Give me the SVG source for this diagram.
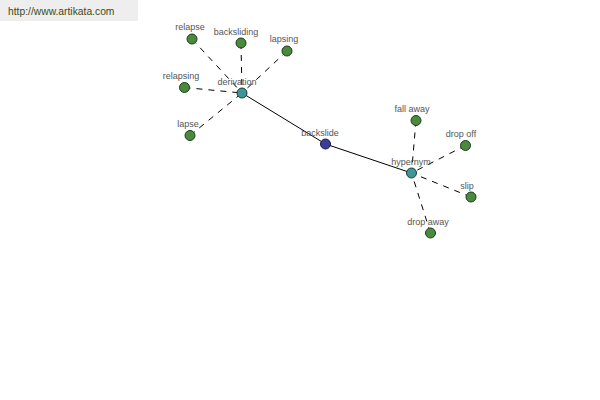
<svg xmlns="http://www.w3.org/2000/svg" width="600" height="400" viewBox="0 0 600 400">
<style>
.lbl{font-family:"Liberation Sans",Arial,sans-serif;font-size:9px;fill:#555;text-anchor:middle}
.leaf{fill:#4a8a3c;stroke:#1e3a1e;stroke-width:1}
.hub{fill:#3f9696;stroke:#1e3a3a;stroke-width:1}
.root{fill:#3c3c9c;stroke:#1a1a40;stroke-width:1}
.dash{stroke:#000;stroke-width:1;stroke-dasharray:6,6;fill:none}
.solid{stroke:#000;stroke-width:1;fill:none}
</style>
<rect x="0" y="0" width="600" height="400" fill="#fff"/>
<rect x="0" y="0" width="138" height="21" fill="#eeeeee"/>
<text x="8" y="15" font-family="Liberation Sans,Arial,sans-serif" font-size="10.3" fill="#3b4a22">http://www.artikata.com</text>
<g id="connectors">
<line class="solid" x1="242" y1="93" x2="325.5" y2="144"/>
<line class="solid" x1="325.5" y1="144" x2="411.5" y2="173"/>
<line class="dash" x1="192" y1="39" x2="242" y2="93"/>
<line class="dash" x1="241" y1="43" x2="242" y2="93"/>
<line class="dash" x1="287" y1="51" x2="242" y2="93"/>
<line class="dash" x1="184.5" y1="87.5" x2="242" y2="93"/>
<line class="dash" x1="190" y1="135.5" x2="242" y2="93"/>
<line class="dash" x1="416" y1="120.5" x2="411.5" y2="173"/>
<line class="dash" x1="465.5" y1="145.5" x2="411.5" y2="173"/>
<line class="dash" x1="471" y1="197" x2="411.5" y2="173"/>
<line class="dash" x1="430.5" y1="233" x2="411.5" y2="173"/>
</g>
<g id="derivation"><circle class="hub" cx="242" cy="93" r="5"/><text class="lbl" x="237" y="85">derivation</text></g>
<g id="backslide"><circle class="root" cx="325.5" cy="144" r="5"/><text class="lbl" x="320" y="136">backslide</text></g>
<g id="hypernym"><circle class="hub" cx="411.5" cy="173" r="5"/><text class="lbl" x="411" y="165">hypernym</text></g>
<g id="relapse"><circle class="leaf" cx="192" cy="39" r="5"/><text class="lbl" x="190" y="30">relapse</text></g>
<g id="backsliding"><circle class="leaf" cx="241" cy="43" r="5"/><text class="lbl" x="236" y="35">backsliding</text></g>
<g id="lapsing"><circle class="leaf" cx="287" cy="51" r="5"/><text class="lbl" x="284" y="42">lapsing</text></g>
<g id="relapsing"><circle class="leaf" cx="184.5" cy="87.5" r="5"/><text class="lbl" x="181" y="79">relapsing</text></g>
<g id="lapse"><circle class="leaf" cx="190" cy="135.5" r="5"/><text class="lbl" x="188" y="127">lapse</text></g>
<g id="fall-away"><circle class="leaf" cx="416" cy="120.5" r="5"/><text class="lbl" x="412" y="112">fall away</text></g>
<g id="drop-off"><circle class="leaf" cx="465.5" cy="145.5" r="5"/><text class="lbl" x="461" y="137">drop off</text></g>
<g id="slip"><circle class="leaf" cx="471" cy="197" r="5"/><text class="lbl" x="467" y="189">slip</text></g>
<g id="drop-away"><circle class="leaf" cx="430.5" cy="233" r="5"/><text class="lbl" x="428" y="225">drop away</text></g>
</svg>
